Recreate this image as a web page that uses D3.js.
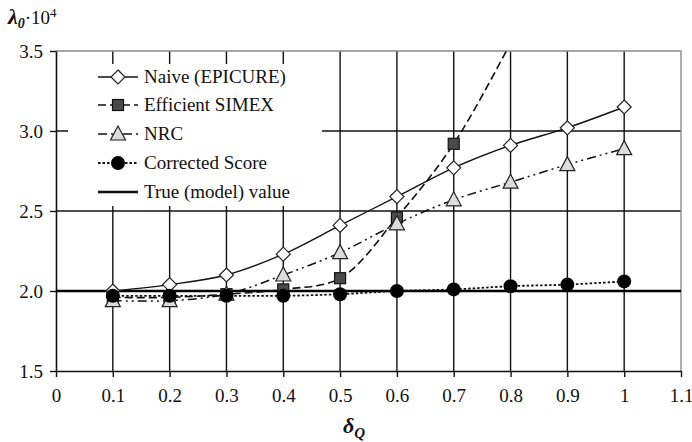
<!DOCTYPE html>
<html>
<head>
<meta charset="utf-8">
<script src="https://cdn.jsdelivr.net/npm/d3@7"></script>
<style>
  body { margin: 0; background: #fff; }
  svg text { font-family: "Times New Roman", "Liberation Serif", "DejaVu Serif", serif; }
</style>
</head>
<body>
<div id="chart"></div>
<script>
// data
const deltaQ = [0.1, 0.2, 0.3, 0.4, 0.5, 0.6, 0.7, 0.8, 0.9, 1.0];
const naive = [2.00, 2.04, 2.10, 2.23, 2.41, 2.59, 2.77, 2.91, 3.02, 3.15];
const simexX = [0.1, 0.2, 0.3, 0.4, 0.5, 0.6, 0.7, 0.8];
const simex = [1.96, 1.96, 1.98, 2.01, 2.08, 2.46, 2.92, 3.55];
const nrc = [1.94, 1.94, 1.98, 2.10, 2.24, 2.42, 2.57, 2.68, 2.79, 2.89];
const corrected = [1.97, 1.97, 1.97, 1.97, 1.98, 2.00, 2.01, 2.03, 2.04, 2.06];
const trueValue = 2.0;
const xTicks = [0, 0.1, 0.2, 0.3, 0.4, 0.5, 0.6, 0.7, 0.8, 0.9, 1, 1.1];
const yTicks = [1.5, 2.0, 2.5, 3.0, 3.5];
const legendLabels = ['Naive (EPICURE)', 'Efficient SIMEX', 'NRC', 'Corrected Score', 'True (model) value'];

const width = 692, height = 442;
const serif = '"Times New Roman", "Liberation Serif", "DejaVu Serif", serif';
const svg = d3.select('#chart').append('svg')
    .attr('width', width)
    .attr('height', height);

const x = d3.scaleLinear().domain([0, 1.1]).range([56, 681]);
const y = d3.scaleLinear().domain([1.5, 3.5]).range([371, 51]);

svg.append('clipPath').attr('id', 'plot-clip')
    .append('rect')
    .attr('x', x(0)).attr('y', y(3.5))
    .attr('width', x(1.1) - x(0)).attr('height', y(1.5) - y(3.5));

// grid
const grid = svg.append('g');
grid.selectAll('.vgrid')
    .data(xTicks.filter(d => d > 0 && d < 1.1))
    .enter().append('line')
    .attr('x1', d => x(d)).attr('x2', d => x(d))
    .attr('y1', y(3.5)).attr('y2', y(1.5))
    .attr('stroke', '#111').attr('stroke-width', 1.4);
grid.selectAll('.hgrid')
    .data(yTicks.filter(d => d > 1.5 && d < 3.5))
    .enter().append('line')
    .attr('x1', x(0)).attr('x2', x(1.1))
    .attr('y1', d => y(d)).attr('y2', d => y(d))
    .attr('stroke', '#111').attr('stroke-width', 1.4);

// plot border (top / right grey)
grid.append('path')
    .attr('d', `M${x(0)},${y(3.5)}H${x(1.1)}V${y(1.5)}`)
    .attr('fill', 'none').attr('stroke', '#8a8a8a').attr('stroke-width', 1.4);

// axes
const xAxis = svg.append('g')
    .attr('transform', `translate(0,${y(1.5)})`)
    .call(d3.axisBottom(x).tickValues(xTicks).tickSize(6).tickSizeOuter(0)
        .tickFormat(d => d3.format('')(+d.toFixed(1))));
const yAxis = svg.append('g')
    .attr('transform', `translate(${x(0)},0)`)
    .call(d3.axisLeft(y).tickValues(yTicks).tickSize(6).tickSizeOuter(0)
        .tickFormat(d3.format('.1f')));
[xAxis, yAxis].forEach(a => {
    a.attr('font-family', serif);
    a.select('.domain').attr('stroke', '#111').attr('stroke-width', 1.6);
    a.selectAll('.tick line').attr('stroke', '#111').attr('stroke-width', 1.4);
    a.selectAll('text')
        .attr('font-family', serif)
        .attr('font-size', 19).attr('fill', '#111');
});
xAxis.selectAll('text').attr('dy', '0.9em').attr('y', 14);
yAxis.selectAll('text').attr('x', -13);

// true value line
svg.append('line')
    .attr('x1', x(0)).attr('x2', x(1.1))
    .attr('y1', y(trueValue)).attr('y2', y(trueValue))
    .attr('stroke', '#000').attr('stroke-width', 2.6);

// legend box (covers grid)
const legend = svg.append('g');
legend.append('rect')
    .attr('x', 68).attr('y', 64).attr('width', 254).attr('height', 142)
    .attr('fill', '#fff');

const curve = d3.curveCatmullRom.alpha(0.5);
const series = [
    { xs: deltaQ, ys: naive, dash: null, width: 1.4, marker: 'diamond' },
    { xs: simexX, ys: simex, dash: '8,4', width: 1.6, marker: 'square' },
    { xs: deltaQ, ys: nrc, dash: '9,4,2,4,2,4', width: 1.5, marker: 'triangle' },
    { xs: deltaQ, ys: corrected, dash: '2.5,2', width: 1.8, marker: 'circle' }
];

function drawMarker(g, kind, cx, cy) {
    if (kind === 'diamond') {
        g.append('path')
            .attr('d', `M${cx},${cy - 7}L${cx + 7},${cy}L${cx},${cy + 7}L${cx - 7},${cy}Z`)
            .attr('fill', '#fff').attr('stroke', '#222').attr('stroke-width', 1.2);
    } else if (kind === 'square') {
        g.append('rect')
            .attr('x', cx - 5.5).attr('y', cy - 5.5).attr('width', 11).attr('height', 11)
            .attr('fill', '#4a4a4a').attr('stroke', '#111').attr('stroke-width', 1.2);
    } else if (kind === 'triangle') {
        g.append('path')
            .attr('d', `M${cx},${cy - 8}L${cx + 7.5},${cy + 6}L${cx - 7.5},${cy + 6}Z`)
            .attr('fill', '#dcdcdc').attr('stroke', '#222').attr('stroke-width', 1.2);
    } else if (kind === 'circle') {
        g.append('circle')
            .attr('cx', cx).attr('cy', cy).attr('r', 7)
            .attr('fill', '#000');
    }
}

const plot = svg.append('g').attr('clip-path', 'url(#plot-clip)');
series.forEach(s => {
    const pts = s.xs.map((v, i) => [v, s.ys[i]]);
    plot.append('path')
        .attr('d', d3.line().x(d => x(d[0])).y(d => y(d[1])).curve(curve)(pts))
        .attr('fill', 'none').attr('stroke', '#111')
        .attr('stroke-width', s.width)
        .attr('stroke-dasharray', s.dash);
    const mg = plot.append('g');
    pts.forEach(p => drawMarker(mg, s.marker, x(p[0]), y(p[1])));
});

// legend entries
const legendY = [77, 105, 134, 163, 192];
legendLabels.forEach((label, i) => {
    const ly = legendY[i];
    const s = series[i];
    legend.append('line')
        .attr('x1', 98).attr('x2', 138).attr('y1', ly).attr('y2', ly)
        .attr('stroke', '#111')
        .attr('stroke-width', s ? s.width : 2.6)
        .attr('stroke-dasharray', s ? s.dash : null);
    if (s) drawMarker(legend, s.marker, 118, ly);
    legend.append('text')
        .attr('x', 144).attr('y', ly).attr('dy', '0.33em')
        .attr('font-family', serif)
        .attr('font-size', 19).attr('fill', '#111')
        .text(label);
});

// axis titles
const yTitle = svg.append('text').attr('x', 8).attr('y', 24)
    .attr('font-family', serif)
    .attr('font-size', 19).attr('fill', '#111');
yTitle.append('tspan').attr('font-weight', 'bold').attr('font-style', 'italic')
    .attr('font-size', 22).text('λ');
yTitle.append('tspan').attr('font-weight', 'bold').attr('font-style', 'italic')
    .attr('font-size', 14).attr('dy', 4).text('0');
yTitle.append('tspan').attr('dy', -4).text('·10');
yTitle.append('tspan').attr('font-size', 13).attr('dy', -7).text('4');

const xTitle = svg.append('text').attr('x', 343).attr('y', 433)
    .attr('font-family', serif)
    .attr('font-size', 22).attr('fill', '#111')
    .attr('font-weight', 'bold').attr('font-style', 'italic');
xTitle.append('tspan').text('δ');
xTitle.append('tspan').attr('font-size', 15).attr('dy', 5).text('Q');
</script>
</body>
</html>
